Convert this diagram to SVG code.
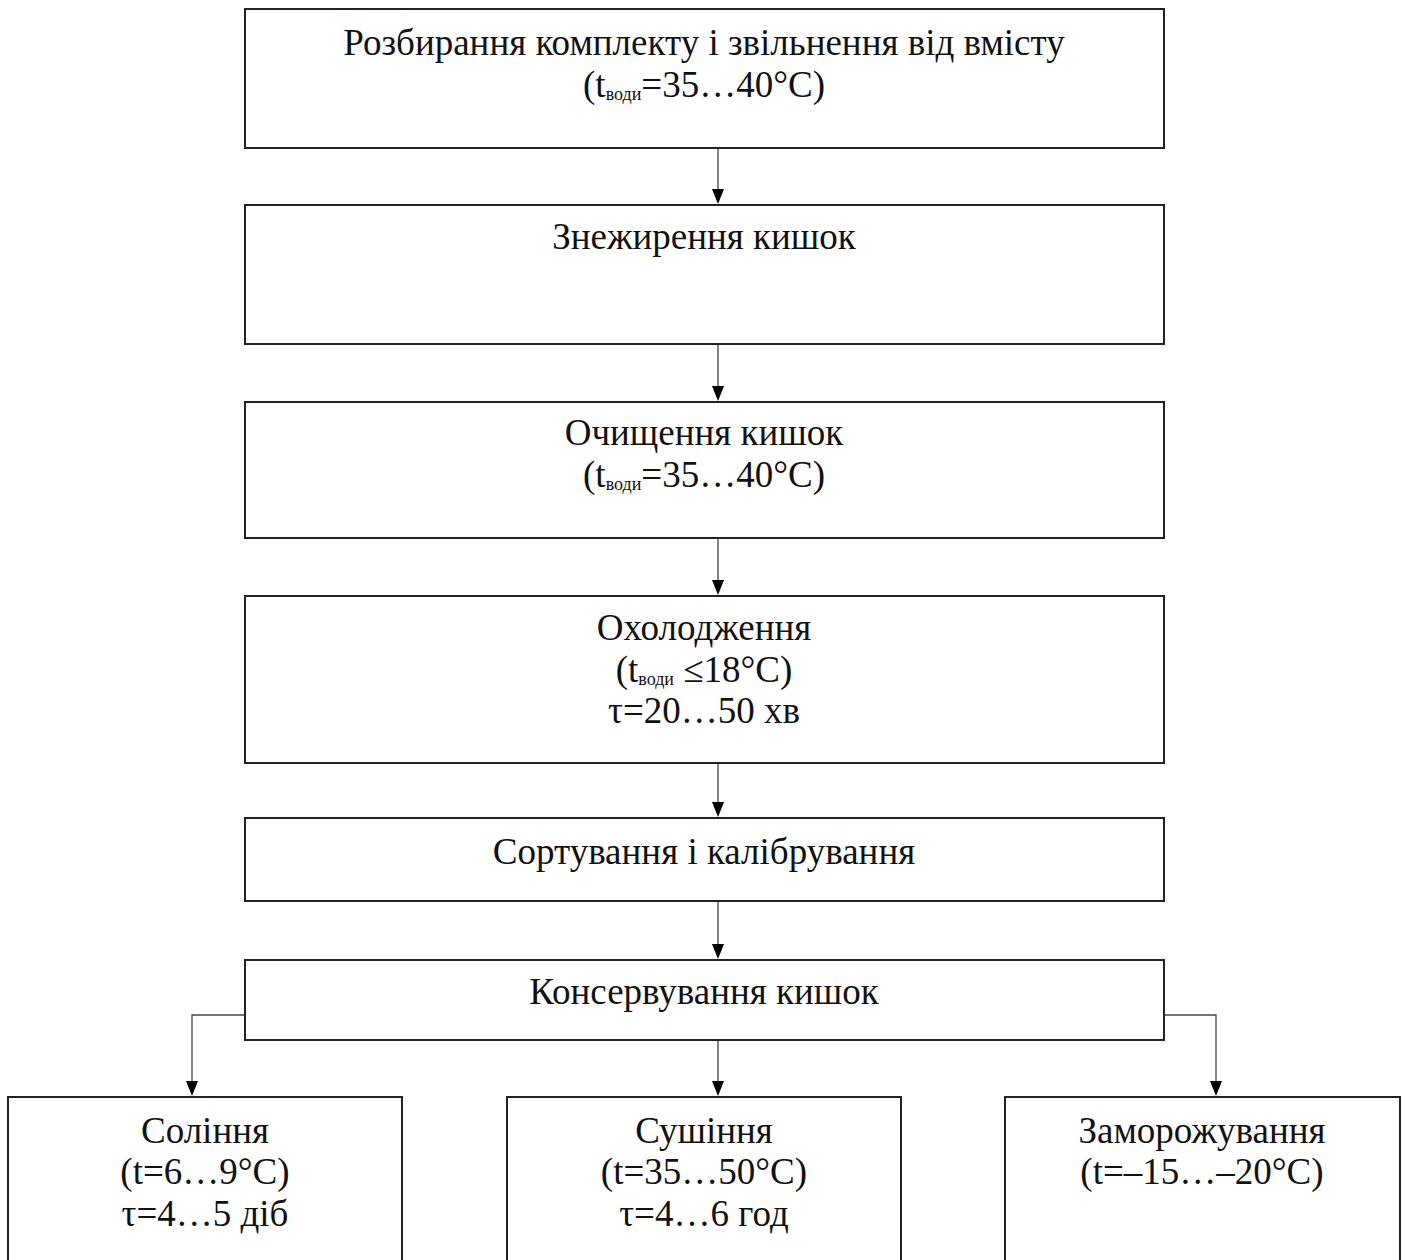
<svg xmlns="http://www.w3.org/2000/svg" width="1405" height="1260" viewBox="0 0 1405 1260">
<defs>
<style>
.box{fill:#fff;stroke:#222;stroke-width:2}
.t{font-family:"Liberation Serif","Times New Roman",serif;font-size:37px;fill:#111;text-anchor:middle}
.sub{font-size:18px}
.c{fill:none;stroke:#444;stroke-width:1.3}
</style>
</defs>
<rect width="1405" height="1260" fill="#fff"/>
<g id="connectors">
<line class="c" x1="718" y1="149" x2="718" y2="200"/>
<line class="c" x1="718" y1="345" x2="718" y2="397"/>
<line class="c" x1="718" y1="539" x2="718" y2="591"/>
<line class="c" x1="718" y1="764" x2="718" y2="813"/>
<line class="c" x1="718" y1="902" x2="718" y2="955"/>
<line class="c" x1="718" y1="1041" x2="718" y2="1092"/>
<polyline class="c" points="245,1015 192,1015 192,1092"/>
<polyline class="c" points="1164,1015 1216,1015 1216,1092"/>
<g fill="#000">
<path d="M712,189 L724,189 L718,204 Z"/>
<path d="M712,386 L724,386 L718,401 Z"/>
<path d="M712,580 L724,580 L718,595 Z"/>
<path d="M712,802 L724,802 L718,817 Z"/>
<path d="M712,944 L724,944 L718,959 Z"/>
<path d="M712,1081 L724,1081 L718,1096 Z"/>
<path d="M186,1081 L198,1081 L192,1096 Z"/>
<path d="M1210,1081 L1222,1081 L1216,1096 Z"/>
</g>
</g>
<g id="n1"><rect class="box" x="245" y="9" width="919" height="139"/>
<text class="t" x="704" y="55">Розбирання комплекту і звільнення від вмісту</text>
<text class="t" x="704" y="97">(t<tspan class="sub" dy="3">води</tspan><tspan dy="-3">=35…40°C)</tspan></text></g>
<g id="n2"><rect class="box" x="245" y="205" width="919" height="139"/>
<text class="t" x="704" y="249">Знежирення кишок</text></g>
<g id="n3"><rect class="box" x="245" y="402" width="919" height="136"/>
<text class="t" x="704" y="445">Очищення кишок</text>
<text class="t" x="704" y="487">(t<tspan class="sub" dy="3">води</tspan><tspan dy="-3">=35…40°C)</tspan></text></g>
<g id="n4"><rect class="box" x="245" y="596" width="919" height="167"/>
<text class="t" x="704" y="640">Охолодження</text>
<text class="t" x="704" y="682">(t<tspan class="sub" dy="3">води</tspan><tspan dy="-3"> ≤18°C)</tspan></text>
<text class="t" x="704" y="723">τ=20…50 хв</text></g>
<g id="n5"><rect class="box" x="245" y="818" width="919" height="83"/>
<text class="t" x="704" y="864">Сортування і калібрування</text></g>
<g id="n6"><rect class="box" x="245" y="960" width="919" height="80"/>
<text class="t" x="704" y="1004">Консервування кишок</text></g>
<g id="n7"><rect class="box" x="8" y="1097" width="394" height="180"/>
<text class="t" x="205" y="1143">Солiння</text>
<text class="t" x="205" y="1184">(t=6…9°C)</text>
<text class="t" x="205" y="1226">τ=4…5 діб</text></g>
<g id="n8"><rect class="box" x="507" y="1097" width="394" height="180"/>
<text class="t" x="704" y="1143">Сушіння</text>
<text class="t" x="704" y="1184">(t=35…50°C)</text>
<text class="t" x="704" y="1226">τ=4…6 год</text></g>
<g id="n9"><rect class="box" x="1005" y="1097" width="395" height="180"/>
<text class="t" x="1202" y="1143">Заморожування</text>
<text class="t" x="1202" y="1184">(t=–15…–20°C)</text></g>
</svg>
